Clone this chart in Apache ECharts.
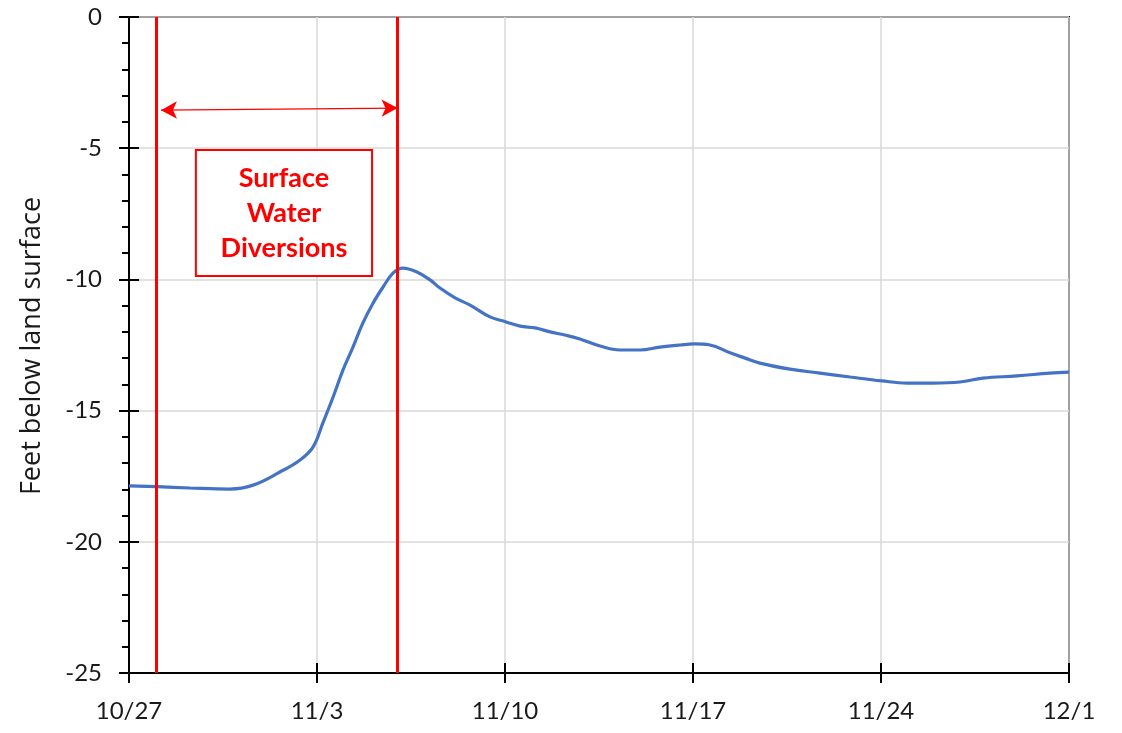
<!DOCTYPE html>
<html>
<head>
<meta charset="utf-8">
<script src="https://cdn.jsdelivr.net/npm/echarts@6/dist/echarts.min.js"></script>
<style>html,body{margin:0;padding:0;background:#fff}#c{width:1122px;height:733px}</style>
</head>
<body>
<div id="c"></div>
<script>
// x values: days since 10/27
const days = [0, 1.04, 2.27, 3.76, 4.62, 5.62, 6.37, 6.85, 7.22, 7.60, 7.97, 8.34, 8.71, 9.09, 9.46, 9.83, 10.20, 10.72, 11.21, 11.58, 12.14, 12.70, 13.44, 14.04, 14.56, 15.12, 15.68, 16.23, 16.79, 17.54, 18.28, 19.03, 19.77, 20.52, 21.04, 21.63, 22.38, 22.94, 23.49, 24.61, 25.73, 26.85, 28.04, 28.97, 29.94, 30.94, 31.80, 33.06, 34.29, 35.0];
const depth = [-17.87, -17.90, -17.95, -17.99, -17.84, -17.34, -16.88, -16.39, -15.47, -14.48, -13.45, -12.58, -11.66, -10.90, -10.29, -9.76, -9.57, -9.72, -10.02, -10.33, -10.70, -10.98, -11.43, -11.62, -11.78, -11.85, -12.00, -12.12, -12.27, -12.54, -12.69, -12.69, -12.58, -12.50, -12.46, -12.50, -12.80, -13.00, -13.19, -13.42, -13.57, -13.72, -13.87, -13.95, -13.95, -13.91, -13.76, -13.68, -13.57, -13.53];
const xTickLabels = ['10/27', '11/3', '11/10', '11/17', '11/24', '12/1'];
const yTicks = [-25, -20, -15, -10, -5, 0];
const diversionStart = 1.0;   // 10/28
const diversionEnd = 10.0;    // 11/6
const arrowStart = [1.19, -3.55];
const arrowEnd = [10.0, -3.47];
const boxCorner1 = [2.49, -5.07];
const boxCorner2 = [9.05, -9.87];
const boxText = 'Surface\nWater\nDiversions';
const yTitle = 'Feet below land surface';

const FONT = 'Lato';
const chart = echarts.init(document.getElementById('c'));
const pts = days.map((d, i) => [d, depth[i]]);
const baseX = {
  type: 'value', min: 0, max: 35, interval: 7, position: 'bottom',
  axisLine: { show: true, onZero: false, lineStyle: { color: '#000', width: 2 } },
  splitLine: { show: false }
};
const baseY = {
  type: 'value', min: yTicks[0], max: yTicks[yTicks.length - 1], interval: 5, position: 'left',
  axisLine: { show: true, onZero: false, lineStyle: { color: '#000', width: 2 } },
  splitLine: { show: false }
};
chart.setOption({
  animation: false,
  grid: { left: 129, right: 53, top: 17, bottom: 60, show: true, borderColor: '#000', borderWidth: 2 },
  xAxis: [
    Object.assign({}, baseX, {
      axisTick: { show: true, inside: false, length: 10, lineStyle: { color: '#000', width: 2 } },
      axisLabel: { show: true, margin: 26, fontFamily: FONT, fontSize: 24, color: '#1a1a1a',
        formatter: v => xTickLabels[Math.round(v / 7)] },
      splitLine: { show: true, lineStyle: { color: '#d9d9d9', width: 1.5 } }
    }),
    Object.assign({}, baseX, {
      axisTick: { show: true, inside: true, length: 10, lineStyle: { color: '#000', width: 2 } },
      axisLabel: { show: false }
    })
  ],
  yAxis: [
    Object.assign({}, baseY, {
      axisTick: { show: true, inside: false, length: 10, lineStyle: { color: '#000', width: 2 } },
      minorTick: { show: true, splitNumber: 5, length: 7, lineStyle: { color: '#000', width: 2 } },
      axisLabel: { show: true, margin: 27, fontFamily: FONT, fontSize: 24, color: '#1a1a1a' },
      splitLine: { show: true, lineStyle: { color: '#d9d9d9', width: 1.5 } }
    }),
    Object.assign({}, baseY, {
      axisTick: { show: true, inside: true, length: 10, lineStyle: { color: '#000', width: 2 } },
      axisLabel: { show: false }
    })
  ],
  graphic: [{
    type: 'text', x: 32, y: 346, rotation: Math.PI / 2,
    style: { text: yTitle, fontFamily: 'Open Sans', fontSize: 27, fill: '#1a1a1a', align: 'center', verticalAlign: 'middle' }
  }],
  series: [{
    type: 'line', xAxisIndex: 0, yAxisIndex: 0, data: pts,
    showSymbol: false, smooth: 0.4,
    lineStyle: { color: '#4472C4', width: 3.2 },
    markLine: {
      silent: true, animation: false,
      data: [
        { xAxis: diversionStart, symbol: 'none', lineStyle: { color: '#ff0000', width: 3, type: 'solid' }, label: { show: false } },
        { xAxis: diversionEnd, symbol: 'none', lineStyle: { color: '#ff0000', width: 3, type: 'solid' }, label: { show: false } },
        [
          { coord: arrowStart, symbol: 'arrow', symbolSize: [13, 16] },
          { coord: arrowEnd, symbol: 'arrow', symbolSize: [13, 16], lineStyle: { color: '#ff0000', width: 1.2, type: 'solid' }, label: { show: false } }
        ]
      ],
      symbol: ['none', 'none']
    },
    markArea: {
      silent: true,
      data: [[
        { coord: boxCorner1 },
        { coord: boxCorner2 }
      ]],
      itemStyle: { color: '#ffffff', borderColor: '#ff0000', borderWidth: 2, opacity: 1 },
      label: { show: true, position: 'inside', formatter: boxText, color: '#ff0000', fontFamily: FONT,
        fontWeight: 'bold', fontSize: 27, lineHeight: 35, align: 'center' }
    }
  }]
});
</script>
</body>
</html>
